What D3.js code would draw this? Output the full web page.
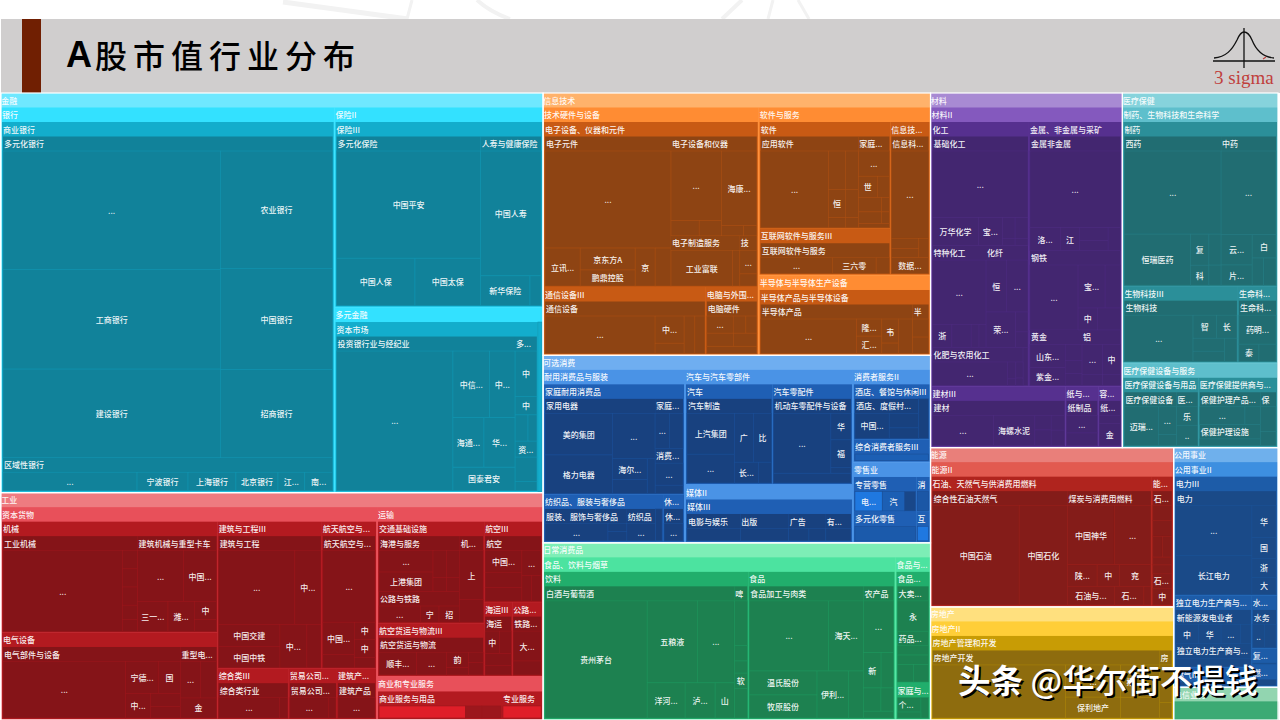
<!DOCTYPE html>
<html><head><meta charset="utf-8">
<script src="https://cdn.jsdelivr.net/npm/d3@7/dist/d3.min.js"></script>
<style>
html,body{margin:0;padding:0;background:#fff;overflow:hidden}
text{font-family:"Noto Sans CJK SC","Noto Sans",sans-serif}
</style></head><body>
<svg id="c" width="1280" height="720"></svg>
<script>
// Node forms: leaf [name, value] · named [name, value, "c"|"r", children] · unnamed group [null, null, "c"|"r", children]
const finance = ["金融",2159,"c",[
 ["银行",1282,"r",[["商业银行",1228,"r",[
  ["多元化银行",1063,"c",[
   [null,null,"r",[["…",258],["工商银行",217],["建设银行",193]]],
   [null,null,"r",[["农业银行",132],["中国银行",114],["招商银行",99]]]]],
  ["区域性银行",109,"c",[["…",25.5],["宁波银行",9.7],["上海银行",9.1],["北京银行",8],["江…",5.1],["南…",5.3]]]]]]],
 [null,null,"r",[
  ["保险II",416,"r",[["保险III",379,"c",[
   ["多元化保险",243,"r",[["中国平安",154],[null,null,"c",[["中国人保",37],["中国太保",31]]]]],
   ["人寿与健康保险",102,"r",[["中国人寿",75.6],[null,null,"c",[["新华保险",14.7],["",3.3]]]]]]]]],
  ["多元金融",385,"c",[
   ["资本市场",335,"c",[
    ["投资银行业与经纪业",269,"c",[["…",159],[null,null,"r",[
      [null,null,"c",[["中信…",24],["中…",16.5]]],
      [null,null,"c",[["海通…",15],["华…",15]]],
      ["国泰君安",14.3]]]]],
    ["多…",33,"r",[["中",9.9],["中",4],[null,null,"c",[["",3.4],["",2.3]]],["资…",3.5],["",5.3],["",2]]]]],
   ["",7]]]]]]];

const industrials = ["工业",1228,"c",[
 ["资本货物",795,"c",[
  [null,null,"r",[
   ["机械",237,"c",[
    ["工业机械",126,"c",[["…",94.4],[null,null,"r",[["",2.7],["",2.7],["",2.7],["",2.1],["",1.8]]]]],
    ["建筑机械与重型卡车",74,"r",[
     [null,null,"c",[["…",23],["中国…",16.5]]],
     [null,null,"c",[["三一…",9],["潍…",7.8],[null,null,"r",[["中",4],["",2.6]]]]]]]]],
   ["电气设备",185,"c",[
    ["电气部件与设备",126,"c",[["…",68],[null,null,"r",[
      [null,null,"c",[["宁德…",10.2],["国",7]]],
      [null,null,"c",[["中…",6],[null,null,"r",[["",3.9],["",3.3]]]]]]]]],
    ["重型电…",25.6,"r",[[null,null,"c",[["…",7.2],["",5.8]]],["金",7.2]]]]]]],
  [null,null,"r",[
   [null,null,"c",[
    ["建筑与工程III",152,"r",[["建筑与工程",134,"r",[
     [null,null,"c",[["…",55.5],["中…",19]]],
     [null,null,"c",[[null,null,"r",[["中国交建",13.4],["中国中铁",12.8]]],["中…",11.6],["",6]]]]]]],
    ["航天航空与…",79,"r",[["航天航空与…",70,"r",[["…",37.6],[null,null,"c",[
      [null,null,"r",[["中国…",10.2],["",4.2]]],
      [null,null,"r",[["中",3.6],["中",3.8],["",2.1]]]]]]]]]]],
   [null,null,"c",[
    ["综合类III",35.5,"r",[["综合类行业",25,"c",[["…",12.6],["",1.7]]]]],
    ["贸易公司…",24,"r",[["贸易公司…",16,"c",[["…",8.2],["",1.5]]]]],
    ["建筑产…",19.5,"r",[["建筑产品",13,"c",[["…",8]]]]]]]]]]],
 [null,null,"r",[
  ["运输",280,"c",[
   [null,null,"r",[
    ["交通基础设施",104,"c",[
     [null,null,"r",[
      ["海港与服务",42.7,"c",[[null,null,"r",[["…",11],["上港集团",10]]],[null,null,"r",[["",3.4],["",1.8]]],[null,null,"r",[["",3.4],["",1.8]]]]],
      ["公路与铁路",23.7,"c",[["…",6.4],["宁",2.9],["招",3.2]]]]],
     ["机…",19.3,"r",[["上",10.8],["",5]]]]],
    ["航空货运与物流III",54,"r",[["航空货运与物流",38,"c",[["顺丰…",8],["…",6.4],[null,null,"r",[["韵",3.2],["",1.5]]],[null,null,"r",[["",1.4],["",1.7]]]]]]]]],
   [null,null,"r",[
    ["航空III",45,"r",[["航空",35,"c",[
     [null,null,"r",[["中国…",8],["",5.7],["",5]]],
     [null,null,"r",[["…",4.8],[null,null,"c",[["",2.5],["",2.5]]]]]]]]],
    [null,null,"c",[
     ["海运III",20,"r",[["海运",13,"r",[[null,null,"c",[["中",3],["",2.4]]],["",3],["",2.3]]]]],
     ["公路…",21.3,"r",[["铁路…",17,"r",[["大…",9],["",4.2]]]]]]]]]]],
  ["商业和专业服务",71,"c",[
   ["商业服务与用品",34,"c",[["",9.5],["",1.8],["",2.1]]],
   ["专业服务",11,"c",[["",4.3]]]]]]]]];

const infoTech = ["信息技术",1013,"c",[
 ["技术硬件与设备",526,"r",[
  ["电子设备、仪器和元件",343,"c",[
   ["电子元件",188,"r",[["…",122],[null,null,"c",[["立讯…",13.3],[null,null,"r",[["京东方A",12],["鹏鼎控股",8.8]]],["京",7.6],["",6]]]]],
   [null,null,"r",[
    ["电子设备和仪器",85,"c",[
     [null,null,"r",[["…",34.5],[null,null,"c",[["",4.2],["",3.3]]]]],
     [null,null,"r",[["海康…",26],[null,null,"c",[["",2.2],["",1.3]]]]]]],
    [null,null,"c",[
     ["电子制造服务",34.5,"c",[["工业富联",21],["",2.5]]],
     ["技",8.5,"r",[["…",3.7],["",1.9]]]]]]]]],
  [null,null,"c",[
   ["通信设备III",106,"r",[["通信设备",85,"c",[["…",40.7],[null,null,"r",[["中…",7.8],["",2.9]]],["",4],["",3.7]]]]],
   ["电脑与外围…",34,"r",[["电脑硬件",26,"r",[[null,null,"c",[["…",4.6],["",2.2],["",1.9]]],[null,null,"c",[["",3.5],["",3.1]]],["",3.6]]]]]]]]],
 [null,null,"r",[
  ["软件与服务",284,"c",[
   [null,null,"r",[
    ["软件",136.5,"c",[
     ["应用软件",88,"c",[["…",51.7],[null,null,"r",[["",6.5],["恒",4.8],["",1.7]]],[null,null,"r",[["",4.9],["",3.6],["",1.3]]]]],
     ["家庭…",28,"r",[["…",7],[null,null,"c",[["世",3.6],["",2.3]]],[null,null,"c",[["",3],["",1]]],[null,null,"c",[["",2.4],["",0.8]]],["",1.2]]]]],
    ["互联网软件与服务III",58.5,"r",[["互联网软件与服务",40,"c",[["…",11.4],["三六零",7],["",2.1]]]]]]],
   ["信息技…",58.5,"r",[["信息科…",52,"r",[["…",32.7],[null,null,"c",[[null,null,"r",[["",2.8],["",2.5]]],["",1.9]]],["数据…",6]]]]]]],
  ["半导体与半导体生产设备",135,"r",[["半导体产品与半导体设备",90,"c",[
    ["半导体产品",74.5,"c",[["…",32.6],[null,null,"r",[["隆…",4.3],["汇…",4.3]]],[null,null,"r",[["韦",4],["",1.7]]],["",4.8]]],
    ["半",7.8,"r",[["",2.9],["",2.6]]]]]]]]]]];

const consumerDisc = ["可选消费",724,"c",[
 ["耐用消费品与服装",242.5,"r",[
  ["家庭耐用消费品",154,"c",[
   ["家用电器",105,"c",[
    [null,null,"r",[["美的集团",28.6],["格力电器",26.5]]],
    [null,null,"r",[["…",19.8],[null,null,"c",[[null,null,"r",[["海尔…",7.4],["",4.9]]],["",2.8]]]]]]],
   [null,null,"r",[
    ["家庭…",14,"c",[["…",5],["",4.7]]],
    ["消费…",12.6,"r",[["…",5.9],["",2.2]]]]]]],
  [null,null,"c",[
   ["纺织品、服装与奢侈品",56.4,"c",[
    ["服装、服饰与奢侈品",26.6,"c",[["…",10.7],[null,null,"r",[["",1.5],["",1.7]]]]],
    ["纺织品",9.3,"c",[["…",5]]],
    ["",2.2]]],
   ["休…",9.9,"r",[["休…",7,"r",[["…",3.6]]]]]]]]],
 [null,null,"r",[
  ["汽车与汽车零部件",191,"c",[
   ["汽车",87,"r",[["汽车制造",72,"c",[
    [null,null,"r",[["上汽集团",19.3],["…",13.6]]],
    [null,null,"r",[[null,null,"c",[["广",9.3],["比",8.8]]],[null,null,"c",[["长…",5],["",2.7]]]]]]]]],
   ["汽车零配件",80,"r",[["机动车零配件与设备",66,"r",[
    [null,null,"c",[["…",34.8],[null,null,"r",[["华",5.4],["福",5.6],["",1.2]]]]],
    ["",7.7]]]]]]],
  ["媒体II",96,"r",[["媒体III",70,"c",[
    ["电影与娱乐",13.8,"c",[["",6.4]]],
    ["出版",12.5,"c",[["",5.8]]],
    ["广告",9.6,"c",[["",2.4],["",2]]],
    ["有…",6.5,"c",[["",3]]]]]]]]],
 [null,null,"r",[
  ["消费者服务II",71,"r",[
   ["酒店、餐馆与休闲III",42,"c",[
    ["酒店、度假村…",25.6,"c",[["中国…",9.1],[null,null,"r",[["",4.5],["",3.3]]]]],
    ["",4]]],
   ["综合消费者服务III",16.7,"c",[["",4.5]]]]],
  ["零售业",61.6,"c",[
   [null,null,"r",[
    ["专营零售",21,"c",[["电…",5.6],["汽",4.6],["",2.2]]],
    ["多元化零售",18,"c",[["",8.4]]]]],
   [null,null,"r",[
    ["消",4.4,"c",[["",2.4]]],
    ["互",3.8,"c",[["",1.7]]]]]]]]]]];

const staples = ["日常消费品",684,"c",[
 ["食品、饮料与烟草",563,"c",[
  ["饮料",296,"c",[
   ["白酒与葡萄酒",248,"c",[["贵州茅台",119],[null,null,"r",[
     [null,null,"c",[["五粮液",41],["…",30]]],
     [null,null,"c",[["洋河…",13.3],["泸…",10.5],["山",6.7]]]]]]],
   ["啤",17,"r",[["",5.9],["",2],["",1.6],["软",2],["",3.9]]]]],
  ["食品",212,"c",[
   ["食品加工与肉类",148,"r",[
    [null,null,"c",[["…",55],["海天…",24]]],
    [null,null,"c",[[null,null,"r",[["温氏股份",16],["牧原股份",15.4]]],["伊利…",14.6],["",7]]]]],
   ["农产品",39,"r",[["…",15],[null,null,"c",[["新",6],["",4.2]]],[null,null,"c",[["",3.9],["",2.8]]],["",2]]]]]]],
 ["食品与…",56,"r",[
  ["食品…",37,"r",[
   ["大卖…",15,"r",[["永",10]]],
   ["药品…",17,"r",[["",3],["",3],[null,null,"c",[["",2.9],["",2.7]]]]]]],
  ["家庭与…",12,"c",[
   ["个…",5.2,"r",[["",1]]],
   ["",1.7]]]]]]];

const materials = ["材料",678,"r",[["材料II",636,"r",[
 [null,null,"c",[
  ["化工",255,"r",[
   ["基础化工",105,"r",[["…",64],[null,null,"c",[["万华化学",12.9],["宝…",6.7],[null,null,"r",[["",2.7],["",0.9]]],[null,null,"r",[["",2.7],["",0.9]]]]]]],
   [null,null,"c",[
    ["特种化工",55,"r",[["…",34],[null,null,"c",[["浙",4.4],["",4.4],["",1.8],["",1.6]]]]],
    ["化纤",43,"r",[[null,null,"c",[["恒",10],["…",10.5]]],[null,null,"c",[["荣…",9.9],[null,null,"r",[["",2.3],["",1.8]]]]]]]]],
   [null,null,"c",[
    ["化肥与农用化工",34.6,"c",[["…",16.8],[null,null,"r",[["",1.3],["",0.5]]],[null,null,"r",[["",1.1],["",0.5]]]]],
    ["",1.9]]]]],
  ["金属、非金属与采矿",242,"r",[
   ["金属非金属",102,"r",[["…",68.5],[null,null,"c",[["洛…",6.9],["江",4.4],[null,null,"r",[["",3.6],["",2.8]]],["",2.8]]]]],
   ["钢铁",71,"c",[["…",29.6],[null,null,"r",[[null,null,"c",[["宝…",11],["",6.2]]],[null,null,"c",[["中",4],["",4.8]]]]]]],
   [null,null,"c",[
    ["黄金",28.6,"c",[[null,null,"r",[["山东…",7.8],["紫金…",6]]],[null,null,"r",[["",2.6],["",2.1],["",1.9]]]]],
    ["铝",21,"r",[[null,null,"c",[["…",6],["中",5.1]]],[null,null,"c",[["",2.2],["",1.9]]]]]]]]]]],
 [null,null,"c",[
  ["建材III",80,"r",[["建材",60,"c",[["…",18.6],["海螺水泥",12.7],[null,null,"r",[["",2.4],["",2.6]]],[null,null,"r",[["",2],["",2.1]]]]]]],
  ["纸与…",19.5,"r",[["纸制品",14,"r",[["…",5.8],["",4.2]]]]],
  ["容…",13.8,"r",[["纸…",10,"r",[["",1.8],["金",5]]]]]]]]]]];

const healthcare = ["医疗保健",550,"r",[
 ["制药、生物科技和生命科学",394,"r",[
  ["制药",246,"c",[
   ["西药",141,"r",[["…",78.7],[null,null,"c",[["恒瑞医药",33],[null,null,"r",[["复",5.6],["科",3.6]]],[null,null,"r",[["",3.7],["",2.4]]]]]]],
   ["中药",80,"r",[["…",44],[null,null,"c",[
     [null,null,"r",[["云…",9],["片…",6]]],
     [null,null,"r",[["白",5.3],[null,null,"c",[["",3],["",3.2]]]]]]]]]]],
  [null,null,"c",[
   ["生物科技III",85,"r",[["生物科技",62,"c",[["…",31],[null,null,"r",[
     [null,null,"c",[["智",5.3],["长",4.6]]],
     [null,null,"c",[[null,null,"r",[["",4],["",3.1]]],["",2.8]]]]]]]]],
   ["生命科…",29,"r",[["生命科…",21,"r",[["药明…",10.7],[null,null,"c",[["泰",3.4],["",2.9]]]]]]]]]]],
 ["医疗保健设备与服务",130,"c",[
  ["医疗保健设备与用品",52,"c",[
   ["医疗保健设备",27,"c",[["迈瑞…",12.9],[null,null,"r",[["…",4.9],["",2]]]]],
   ["医…",11,"r",[["乐",3.8],["..",4.2]]]]],
  ["医疗保健提供商与…",54,"c",[
   [null,null,"r",[
    ["保健护理产品…",19,"c",[["…",7.5],["",2.6]]],
    ["保健护理设施",12.6,"c",[["",4]]]]],
   ["保",8,"r",[["",3.6],["",2.1]]]]]]]]];

const energy = ["能源",386,"r",[["能源II",350,"c",[
 ["石油、天然气与供消费用燃料",285,"c",[
  ["综合性石油天然气",154,"c",[["中国石油",86.9],["中国石化",48.5]]],
  ["煤炭与消费用燃料",95,"r",[
   [null,null,"c",[["中国神华",27.6],["…",21.6]]],
   [null,null,"c",[["陕…",6.4],["中",4.8],["兖",6.8]]],
   [null,null,"c",[["石油与…",8.7],["石…",5.5],["",1.3]]]]]]],
 ["能…",27,"r",[
  ["石…",17,"r",[["",3],["",3.2],[null,null,"c",[["",2.1],["",2.1]]],["",1.6],["",1.8]]],
  ["石…",6.4,"r",[["中",3.4]]]]]]]]];

const realEstate = ["房地产",274,"r",[["房地产II",240,"r",[["房地产管理和开发",205,"c",[
 ["房地产开发",150,"c",[["…",67.8],[null,null,"r",[["…",17],["保利地产",11]]],[null,null,"r",[[null,null,"c",[["招",6.2],["",5.9]]],["",7.8]]]]],
 ["房",8,"r",[["",4.3],["",1.8]]]]]]]]];

const utilities = ["公用事业",249,"r",[["公用事业II",208,"r",[
 ["电力III",118,"r",[["电力",100,"c",[
  [null,null,"r",[["…",38],["长江电力",29.6]]],
  [null,null,"r",[["华",7.7],["国",5],["浙",4.6],["大",4.1]]]]]]],
 [null,null,"c",[
  [null,null,"r",[
   ["独立电力生产商与…",54,"r",[
    ["新能源发电业者",24.4,"c",[["中",4.2],["华",4.2],["…",3.6],["",1.9]]],
    ["独立电力生产商与…",16.5,"c",[["",6]]]]],
   ["燃气III",14,"c",[["",2]]]]],
  [null,null,"r",[
   ["水…",13,"r",[["水务",9.5,"c",[["..",2.8],["",2.8]]]]],
   ["复…",4,"c",[["",0.3]]],
   ["燃…",5.2,"c",[["",0.8]]]]]]]]]]];

const telecom = ["电信业务",34,"r",[["",22]]];

const sectorPalette = {
 "金融":["#6fe8ff","#33e1ff","#13adcc","#11829a"],
 "工业":["#ee7b80","#e8505a","#b31a20","#851418"],
 "信息技术":["#ffb26b","#ff8c33","#c85a14","#8e4413"],
 "可选消费":["#6faef0","#4a93e6","#1f5fb4","#18417f"],
 "日常消费品":["#7deeb6","#4ce3a0","#21ae6c","#1d8150"],
 "材料":["#a88ad3","#8459be","#56308f","#432670"],
 "医疗保健":["#86d3dc","#5ebfcc","#2b8f99","#216d72"],
 "能源":["#e97f7a","#e25a50","#b0241e","#841c19"],
 "房地产":["#ffe07e","#ffce38","#c89c05","#8e6c0e"],
 "公用事业":["#6fb0ec","#3d8fe0","#1d5ca8","#1a4a88"],
 "电信业务":["#92d5b0","#3caa74","#3caa74","#3caa74"]
};
// tint (0 dark … 1 bright) of the flat cells sitting directly in a level-3 box, keyed by that box
const flatCellTint = {"商业服务与用品":[1,.25,.25],"专业服务":[1],"专营零售":[1,.55,.1],"多元化零售":[.45],"综合消费者服务III":[.55],"消":[.4],"互":[1]};
const brightColor = {"工业":"#e01e28","可选消费":"#1f78e0"};

const rootData = [null,null,"c",[
 [null,null,"r",[finance,industrials]],
 [null,null,"r",[infoTech,consumerDisc,staples]],
 [null,null,"r",[
  [null,null,"c",[materials,healthcare]],
  [null,null,"c",[
   [null,null,"r",[energy,realEstate]],
   [null,null,"r",[utilities,telecom]]]]]]]];

const HEADER=14.5, TOP=93;
const svg=d3.select("#c");

// ---------- banner ----------
svg.append("g").attr("fill","none").attr("stroke","#f2f2f2").attr("stroke-linecap","butt")
  .selectAll("path").data([["M283,2L408,19",5],["M412,0L407,19",3],["M477,0Q490,12 510,19",4],["M742,0L722,19",4],["M773,0L768,19",3],["M798,0L809,19",3]])
  .join("path").attr("d",d=>d[0]).attr("stroke-width",d=>d[1]);
svg.append("rect").attr("x",1).attr("y",19).attr("width",1279).attr("height",74).attr("fill","#d0cece");
svg.append("rect").attr("x",22).attr("y",19).attr("width",19).attr("height",74).attr("fill","#701f02");
const title=svg.append("text").attr("x",66).attr("y",67).attr("fill","#000");
title.append("tspan").text("A").attr("style",'font-family:"Liberation Sans";font-weight:700;font-size:36px');
title.append("tspan").text("股市值行业分布").attr("style",'font-family:"Noto Sans CJK SC";font-weight:500;font-size:32px;letter-spacing:6px').attr("dx",3).attr("dy",1);
const logo=svg.append("g").attr("fill","none").attr("stroke","#111");
logo.append("path").attr("d","M1214,58C1226,57 1232,50 1237,40C1240,33 1243,32 1244,32C1246,32 1249,33 1252,40C1256,50 1262,57 1274,58").attr("stroke-width",1.3);
logo.append("path").attr("d","M1213,61H1275").attr("stroke-width",1.6);
logo.append("path").attr("d","M1244,28V68").attr("stroke-width",1.3);
svg.append("path").attr("d","M1263,59L1266,57").attr("stroke","#c0403c").attr("stroke-width",1.2);
svg.append("text").attr("x",1214).attr("y",83.5).text("3 sigma").attr("fill","#c0403c")
  .attr("style",'font-family:"Liberation Serif";font-size:19px');

// ---------- treemap ----------
const root=d3.hierarchy(rootData,d=>d[3]);
root.eachBefore(n=>{
  const chain=n.ancestors().filter(a=>a.data[0]!==null);
  n.level=chain.length;
  n.sector=chain.length?chain[chain.length-1].data[0]:null;
});
root.eachAfter(n=>{ n.value = n.data[0]===null ? d3.sum(n.children,c=>c.value) : n.data[1]; });

const tile=(node,x0,y0,x1,y1)=>{
  const own=node.value;
  node.value=d3.sum(node.children,c=>c.value);
  (node.data[2]==="c"?d3.treemapDice:d3.treemapSlice)(node,x0,y0,x1,y1);
  node.value=own;
};
const named=n=>n.data[0]!==null;
const side=n=>named(n)&&(n.level===2||n.level===3)?1:0;
d3.treemap().size([1277,627]).round(false).tile(tile)
  .paddingTop(n=>named(n)?HEADER:0)
  .paddingLeft(side).paddingRight(side).paddingBottom(side)(root);

const mix=(a,b,t)=>d3.interpolateRgb(a,b)(t);
function fillOf(n){
  const p=sectorPalette[n.sector];
  if(!n.children && n.level===4 && n.parent.data[0]!==null && flatCellTint[n.parent.data[0]]){
    const t=flatCellTint[n.parent.data[0]][n.parent.children.indexOf(n)];
    return mix(p[3],brightColor[n.sector]||p[1],t);
  }
  return p[Math.min(n.level,4)-1];
}
const drawn=root.descendants().filter(named);
const g=svg.append("g").attr("transform",`translate(1,${TOP})`);
g.selectAll("rect.cell").data(drawn).join("rect").attr("class","cell")
  .attr("x",d=>d.x0).attr("y",d=>d.y0)
  .attr("width",d=>Math.max(0,d.x1-d.x0)).attr("height",d=>Math.max(0,d.y1-d.y0))
  .attr("fill",fillOf)
  .attr("stroke",d=>{ if(d.children) return "none"; const p=sectorPalette[d.sector]; return mix(p[3],p[2],.45); })
  .attr("stroke-width",d=>d.children?0:.6);
g.selectAll("rect.sec").data(drawn.filter(d=>d.level===1)).join("rect").attr("class","sec")
  .attr("x",d=>d.x0).attr("y",d=>d.y0)
  .attr("width",d=>d.x1-d.x0).attr("height",d=>d.y1-d.y0)
  .attr("fill","none").attr("stroke","#fff").attr("stroke-width",1.2);
g.selectAll("text").data(drawn.filter(d=>d.data[0]!=="")).join("text")
  .attr("x",d=>d.children?d.x0+(d.level===1?.3:1):(d.x0+d.x1)/2)
  .attr("y",d=>d.children?d.y0+HEADER/2-.2:(d.y0+d.y1)/2)
  .attr("text-anchor",d=>d.children?"start":"middle")
  .attr("dominant-baseline","central")
  .attr("font-size",8).attr("font-weight",500).attr("fill","#fff").attr("fill-opacity",.93)
  .text(d=>d.data[0].replace("…","..."));

// ---------- site watermark ----------
const wm=svg.append("g").attr("font-size",32.6);
[["#000",2,2],["#fff",0,0]].forEach(([c,dx,dy])=>{
  const t=wm.append("text").attr("x",958+dx).attr("y",693+dy).attr("fill",c);
  t.append("tspan").text("头条").attr("font-weight",700);
  t.append("tspan").text(" @华尔街不提钱").attr("font-weight",500);
});
</script>
</body></html>
